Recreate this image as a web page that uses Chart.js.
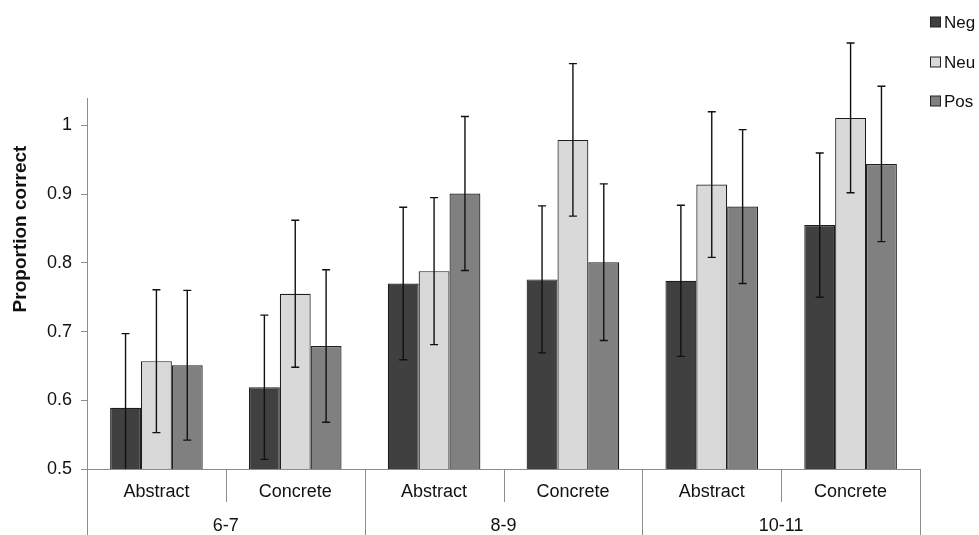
<!DOCTYPE html>
<html lang="en">
<head>
    <meta charset="UTF-8">
    <title>Proportion correct by age and word type</title>
    <script src="https://cdn.jsdelivr.net/npm/chart.js"></script>
    <style>
        html, body { margin: 0; padding: 0; background: #fff; }
        #wrap { width: 979px; height: 535px; position: relative; }
    </style>
</head>
<body>
    <div id="wrap"><canvas id="barChart"></canvas></div>

    <script>
        // data
        const ageGroups = ['6-7', '8-9', '10-11'];
        const conditions = ['Abstract', 'Concrete'];
        const seriesNames = ['Neg', 'Neu', 'Pos'];

        const negValues = [0.589, 0.619, 0.770, 0.776, 0.774, 0.855];
        const neuValues = [0.657, 0.755, 0.788, 0.979, 0.914, 1.011];
        const posValues = [0.651, 0.679, 0.901, 0.801, 0.882, 0.944];

        const negErr = [0.108, 0.105, 0.111, 0.107, 0.110, 0.105];
        const neuErr = [0.104, 0.107, 0.107, 0.111, 0.106, 0.109];
        const posErr = [0.109, 0.111, 0.112, 0.114, 0.112, 0.113];

        const yMin = 0.5;
        const yMax = 1.04;
        const yStep = 0.1;

        const labels = ageGroups.flatMap(() => conditions);
        const errors = [negErr, neuErr, posErr];
        const colors = ['#404040', '#d9d9d9', '#808080'];
        const fontFamily = '"Liberation Sans", Arial, sans-serif';

        // error bars, drawn without clipping like Excel does above the plot
        const errorBars = {
            id: 'errorBars',
            afterDatasetsDraw(chart) {
                const ctx = chart.ctx, y = chart.scales.y;
                const bottom = y.getPixelForValue(yMin);
                ctx.save();
                ctx.strokeStyle = '#111';
                ctx.lineWidth = 1.4;
                chart.data.datasets.forEach((ds, d) => {
                    const meta = chart.getDatasetMeta(d);
                    meta.data.forEach((bar, i) => {
                        const v = ds.data[i], e = errors[d][i];
                        const top = y.getPixelForValue(v + e);
                        const lowVal = v - e;
                        const low = lowVal < yMin ? bottom : y.getPixelForValue(lowVal);
                        ctx.beginPath();
                        ctx.moveTo(bar.x, top);
                        ctx.lineTo(bar.x, low);
                        ctx.moveTo(bar.x - 4, top);
                        ctx.lineTo(bar.x + 4, top);
                        if (lowVal >= yMin) {
                            ctx.moveTo(bar.x - 4, low);
                            ctx.lineTo(bar.x + 4, low);
                        }
                        ctx.stroke();
                    });
                });
                ctx.restore();
            }
        };

        // two-level category axis, y title and legend
        const excelFrame = {
            id: 'excelFrame',
            afterDraw(chart) {
                const ctx = chart.ctx, x = chart.scales.x, y = chart.scales.y;
                const area = chart.chartArea;
                const base = y.getPixelForValue(yMin);
                const catW = (area.right - area.left) / labels.length;
                const H = chart.height;

                ctx.save();
                ctx.strokeStyle = '#8c8c8c';
                ctx.lineWidth = 1;
                ctx.beginPath();
                ctx.moveTo(area.left, base + 0.5);
                ctx.lineTo(area.right, base + 0.5);
                // left and right edges run to the bottom
                ctx.moveTo(Math.round(area.left) + 0.5, base);
                ctx.lineTo(Math.round(area.left) + 0.5, H);
                ctx.moveTo(Math.round(area.right) + 0.5, base);
                ctx.lineTo(Math.round(area.right) + 0.5, H);
                for (let i = 1; i < labels.length; i++) {
                    const px = Math.round(area.left + i * catW) + 0.5;
                    const isGroup = i % conditions.length === 0;
                    ctx.moveTo(px, base);
                    ctx.lineTo(px, isGroup ? H : base + 33);
                }
                ctx.stroke();

                ctx.fillStyle = '#111';
                ctx.font = '18px ' + fontFamily;
                ctx.textAlign = 'center';
                ctx.textBaseline = 'middle';
                labels.forEach((lab, i) => {
                    ctx.fillText(lab, x.getPixelForValue(i), base + 23);
                });
                ageGroups.forEach((g, gi) => {
                    const first = gi * conditions.length;
                    const cx = area.left + (first + conditions.length / 2) * catW;
                    ctx.fillText(g, cx, base + 57);
                });

                // y axis title
                ctx.save();
                ctx.translate(21, 229);
                ctx.rotate(-Math.PI / 2);
                ctx.font = 'bold 19px ' + fontFamily;
                ctx.fillText('Proportion correct', 0, 0);
                ctx.restore();

                // legend
                ctx.font = '17px ' + fontFamily;
                ctx.textAlign = 'left';
                const legendY = [22, 62, 101];
                chart.data.datasets.forEach((ds, d) => {
                    ctx.fillStyle = ds.backgroundColor;
                    ctx.fillRect(930.5, legendY[d] - 5, 10, 10);
                    ctx.strokeStyle = '#222';
                    ctx.strokeRect(930.5, legendY[d] - 5, 10, 10);
                    ctx.fillStyle = '#111';
                    ctx.fillText(ds.label, 944, legendY[d] + 1);
                });
                ctx.restore();
            }
        };

        new Chart(document.getElementById('barChart').getContext('2d'), {
            type: 'bar',
            data: {
                labels,
                datasets: [negValues, neuValues, posValues].map((vals, d) => ({
                    label: seriesNames[d],
                    data: vals,
                    backgroundColor: colors[d],
                    borderColor: '#1e1e1e',
                    borderWidth: 1.2,
                    categoryPercentage: 0.667,
                    barPercentage: 1
                }))
            },
            options: {
                responsive: true,
                maintainAspectRatio: false,
                animation: false,
                events: [],
                layout: { padding: { top: 98, right: 59, bottom: 66, left: 0 } },
                plugins: { legend: { display: false }, tooltip: { enabled: false } },
                scales: {
                    x: { display: false, grid: { display: false } },
                    y: {
                        min: yMin,
                        max: yMax,
                        afterFit(scale) { scale.width = 87; },
                        afterBuildTicks(scale) {
                            scale.ticks = scale.ticks.filter(t =>
                                Math.abs(t.value / yStep - Math.round(t.value / yStep)) < 1e-6);
                        },
                        ticks: {
                            stepSize: yStep,
                            color: '#111',
                            padding: 9,
                            font: { family: fontFamily, size: 18 },
                            callback: v => String(+v.toFixed(2))
                        },
                        grid: { drawOnChartArea: false, tickLength: 6, color: '#8c8c8c' },
                        border: { color: '#8c8c8c', width: 1 }
                    }
                }
            },
            plugins: [errorBars, excelFrame]
        });
    </script>
</body>
</html>
